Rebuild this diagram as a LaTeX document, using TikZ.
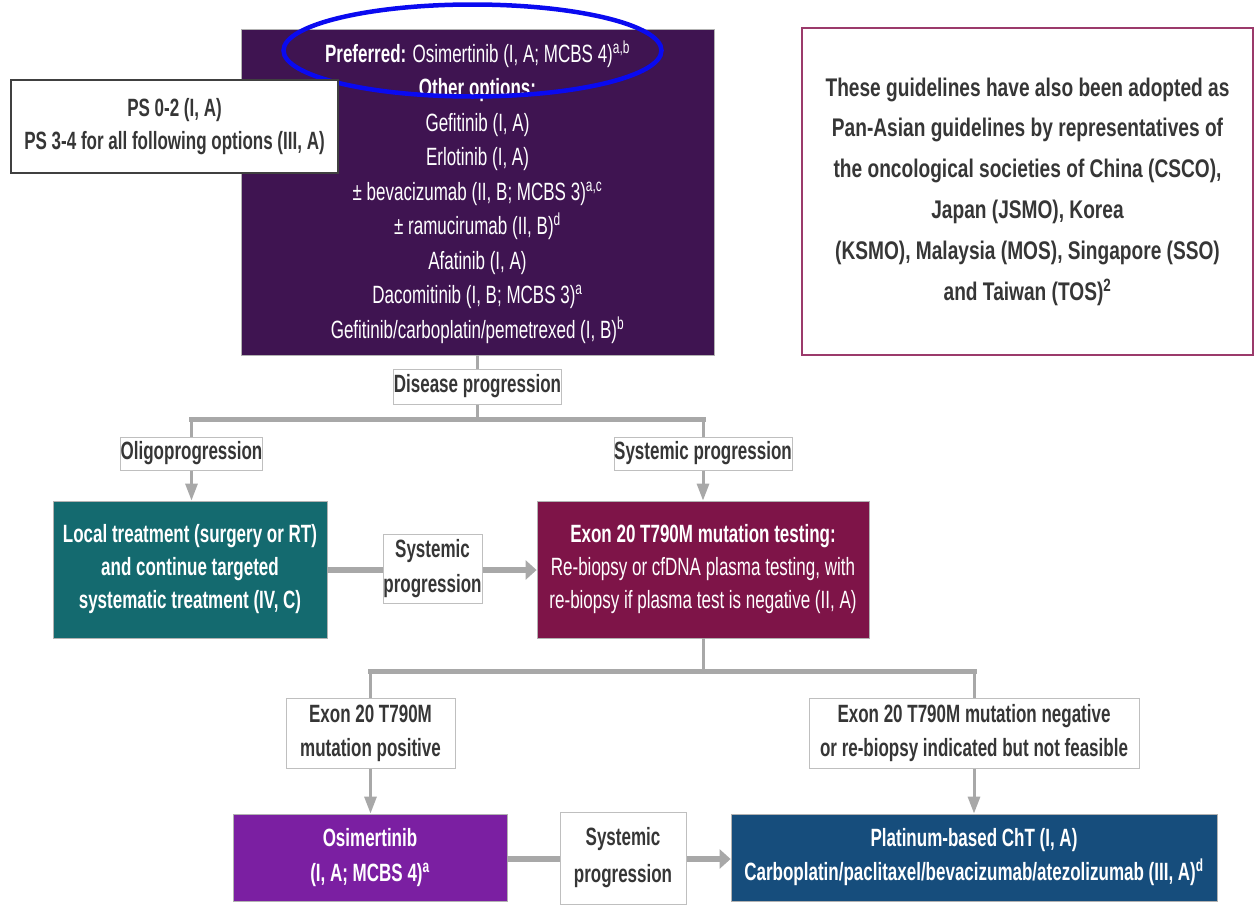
\documentclass[tikz,border=0pt]{standalone}
\usepackage{fontspec}
\setmainfont{Liberation Sans}[FakeStretch=0.68]
\newfontfamily\rbfont{Liberation Sans}[FakeStretch=0.75]
\usetikzlibrary{arrows.meta,shapes.geometric}
\definecolor{toppurple}{HTML}{3F1451}
\definecolor{tealbox}{HTML}{146A6F}
\definecolor{maroonbox}{HTML}{7E1448}
\definecolor{osipurple}{HTML}{7B1FA2}
\definecolor{platblue}{HTML}{164D7C}
\definecolor{noteborder}{HTML}{9B3A6B}
\definecolor{lblgray}{HTML}{BFBFBF}
\definecolor{lbltext}{HTML}{363636}
\definecolor{conngray}{HTML}{A8A8A8}
\definecolor{psborder}{HTML}{404040}
\definecolor{hlblue}{HTML}{0A0AF0}
\begin{document}
\begin{tikzpicture}[x=1pt,y=-1pt,
  box/.style={rectangle, inner sep=0pt, align=center},
  cbox/.style={box, text=white, draw=white!70!black, line width=0.8pt,
    font=\fontsize{25}{34.5}\selectfont},
  lbl/.style={box, fill=white, draw=lblgray, line width=1pt, text=lbltext,
    font=\bfseries\fontsize{25}{35}\selectfont},
  conn/.style={draw=conngray, line width=3pt},
  bar/.style={draw=conngray, line width=5pt, line cap=rect},
  darr/.style={conn, -{Triangle[width=12pt,length=17pt]}},
  hline/.style={draw=conngray, line width=5.5pt},
  harr/.style={hline, -{Triangle[width=19pt,length=11pt]}}
]
\path[use as bounding box] (0,0) rectangle (1255,908);

% top treatment box
\node[cbox, fill=toppurple, minimum width=473pt, minimum height=326pt] (top) at (477.5,192)
 {\textbf{Preferred:} Osimertinib (I, A; MCBS 4)\textsuperscript{a,b}\\
  \textbf{Other options:}\\
  Gefitinib (I, A)\\
  Erlotinib (I, A)\\
  ± bevacizumab (II, B; MCBS 3)\textsuperscript{a,c}\\
  ± ramucirumab (II, B)\textsuperscript{d}\\
  Afatinib (I, A)\\
  Dacomitinib (I, B; MCBS 3)\textsuperscript{a}\\
  Gefitinib/carboplatin/pemetrexed (I, B)\textsuperscript{b}};

% highlight ellipse
\node[ellipse, draw=hlblue, line width=4.5pt, minimum width=378pt, minimum height=92pt, inner sep=0pt] (hl) at (472.5,50.5) {};

% PS box
\node[box, fill=white, draw=psborder, line width=2.5pt, text=lbltext,
  font=\bfseries\fontsize{25}{33}\selectfont,
  minimum width=327pt, minimum height=93pt] (ps) at (174.5,126.5)
 {PS 0-2 (I, A)\\PS 3-4 for all following options (III, A)};

% note box
\node[box, fill=white, draw=noteborder, line width=2pt, text=lbltext,
  font=\rbfont\bfseries\fontsize{25.5}{40.8}\selectfont,
  minimum width=451pt, minimum height=327pt] (note) at (1027.5,191.5)
 {These guidelines have also been adopted as\\
  Pan-Asian guidelines by representatives of\\
  the oncological societies of China (CSCO),\\
  Japan (JSMO), Korea\\
  (KSMO), Malaysia (MOS), Singapore (SSO)\\
  and Taiwan (TOS)\textsuperscript{2}};

% labels level 1
\node[lbl, minimum width=167pt, minimum height=35pt] (dp) at (477.5,386.5) {Disease progression};
\node[lbl, minimum width=141pt, minimum height=33pt] (olig) at (191.5,453.5) {Oligoprogression};
\node[lbl, minimum width=178pt, minimum height=33pt] (sysl) at (703,453.5) {Systemic progression};

% level 2 boxes
\node[cbox, fill=tealbox, font=\bfseries\fontsize{25}{33}\selectfont,
  minimum width=274pt, minimum height=137pt] (local) at (190,569.5)
 {Local treatment (surgery or RT)\\and continue targeted\\systematic treatment (IV, C)};
\node[cbox, fill=maroonbox, font=\fontsize{25}{33}\selectfont,
  minimum width=332pt, minimum height=137pt] (exon) at (703,569.5)
 {\textbf{Exon 20 T790M mutation testing:}\\Re-biopsy or cfDNA plasma testing, with\\re-biopsy if plasma test is negative (II, A)};
\node[lbl, minimum width=99pt, minimum height=69pt] (sp1) at (432.5,568.5) {Systemic\\progression};

% labels level 3
\node[lbl, font=\bfseries\fontsize{25}{34}\selectfont, minimum width=169pt, minimum height=70pt] (pos) at (370.5,733)
 {Exon 20 T790M\\mutation positive};
\node[lbl, font=\bfseries\fontsize{25}{34}\selectfont, minimum width=330pt, minimum height=70pt] (neg) at (974,733)
 {Exon 20 T790M mutation negative\\or re-biopsy indicated but not feasible};

% level 4 boxes
\node[cbox, fill=osipurple, font=\bfseries\fontsize{25}{35}\selectfont,
  minimum width=274pt, minimum height=87pt] (osim) at (370,857.5)
 {Osimertinib\\(I, A; MCBS 4)\textsuperscript{a}};
\node[cbox, fill=platblue, font=\bfseries\fontsize{25}{34}\selectfont,
  minimum width=486pt, minimum height=87pt] (plat) at (974,857.5)
 {Platinum-based ChT (I, A)\\Carboplatin/paclitaxel/bevacizumab/atezolizumab (III, A)\textsuperscript{d}};
\node[lbl, font=\bfseries\fontsize{25}{37}\selectfont, minimum width=126pt, minimum height=92pt] (sp2) at (623,858) {Systemic\\progression};

% connectors level 1
\coordinate (b1) at (477.5,419);
\draw[conn] (top.south) -- (dp.north);
\draw[conn] (dp.south) -- (b1);
\draw[conn] (olig.north) -- (olig.north |- b1);
\draw[conn] (sysl.north) -- (sysl.north |- b1);
\draw[bar] (olig.north |- b1) -- (sysl.north |- b1);
\draw[darr] (olig.south) -- (olig.south |- local.north);
\draw[darr] (sysl.south) -- (sysl.south |- exon.north);

% systemic progression arrow (middle)
\draw[hline] (local.east |- 0,570) -- (sp1.west |- 0,570);
\draw[harr] (sp1.east |- 0,570) -- (exon.west |- 0,570);

% connectors level 3
\coordinate (b2) at (703,671);
\draw[conn] (exon.south) -- (b2);
\draw[conn] (pos.north) -- (pos.north |- b2);
\draw[conn] (neg.north) -- (neg.north |- b2);
\draw[bar] (pos.north |- b2) -- (neg.north |- b2);
\draw[darr] (pos.south) -- (pos.south |- osim.north);
\draw[darr] (neg.south) -- (neg.south |- plat.north);

% bottom arrow
\draw[hline] (osim.east |- 0,859) -- (sp2.west |- 0,859);
\draw[harr] (sp2.east |- 0,859) -- (plat.west |- 0,859);
\end{tikzpicture}
\end{document}
